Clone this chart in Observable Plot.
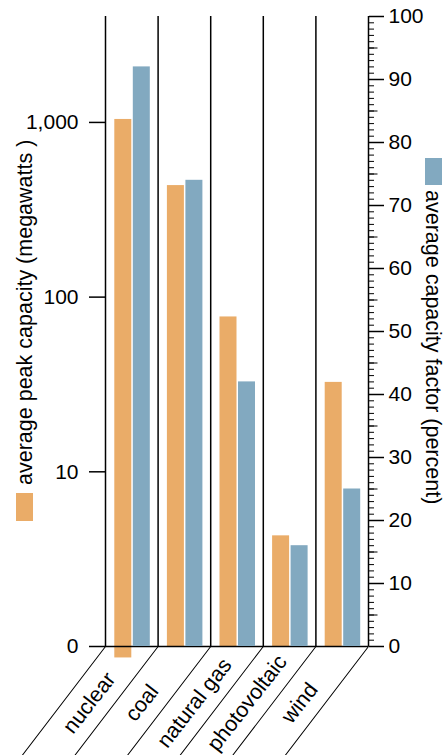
<!DOCTYPE html>
<html>
<head>
<meta charset="utf-8">
<script src="https://cdn.jsdelivr.net/npm/d3@7"></script>
<script src="https://cdn.jsdelivr.net/npm/@observablehq/plot@0.6"></script>
<style>
  html, body { margin: 0; padding: 0; background: #fff; overflow: hidden; }
  #chart { position: relative; width: 444px; height: 755px; overflow: hidden;
           font-family: "Liberation Sans", Arial, Helvetica, sans-serif; color: #000; }
  #chart svg { position: absolute; left: 0; top: 0; }
  .title { position: absolute; white-space: nowrap; font-size: 21.5px; line-height: 1; transform-origin: 0 0; }
  .swatch { position: absolute; }
</style>
</head>
<body>
<div id="chart"></div>
<script>
// ---- data ----
const categories = ["nuclear", "coal", "natural gas", "photovoltaic", "wind"];
const peakCapacity = [1040, 435, 77, 4.3, 32.5];     // average peak capacity (megawatts), log scale
const peakBase = [0.86, 1, 1, 1, 1];                 // bar base values (nuclear bar dips below baseline)
const capacityFactor = [92, 74, 42, 16, 25];         // average capacity factor (percent)
const peakTicks = [1, 10, 100, 1000];
const peakTickLabels = ["0", "10", "100", "1,000"];
const peakDomain = [1, 4040];
const factorDomain = [0, 100];
const factorMajorTicks = d3.range(0, 101, 10);
const factorMidTicks = d3.range(5, 100, 10);
const factorMinorTicks = d3.range(0, 101, 1);
const peakTitle = "average peak capacity (megawatts )";
const factorTitle = "average capacity factor (percent)";

const orange = "#EAAC68";
const blue = "#82A9C0";

const idx = categories.map((d, i) => i);
const bounds = d3.range(0, categories.length + 1);

const W = 444, H = 755;
const common = {
  width: W, height: H,
  marginLeft: 105, marginRight: 76, marginTop: 16, marginBottom: 109,
  x: { domain: [0, categories.length], axis: null },
};
const font = "'Liberation Sans', Arial, Helvetica, sans-serif";

// ---- left (log) plot ----
const p1 = Plot.plot({
  ...common,
  style: { fontFamily: font, fontSize: "21px", background: "transparent", overflow: "hidden" },
  y: { type: "log", domain: peakDomain },
  marks: [
    Plot.rectY(idx, {
      x1: i => i, x2: i => i + 1,
      y1: i => peakBase[i], y2: i => peakCapacity[i],
      insetLeft: 9.3, insetRight: 26.3, fill: orange
    }),
    Plot.ruleX(bounds.slice(0, -1), { x: d => d, stroke: "#000", strokeWidth: 1.5 }),
    Plot.ruleY([1], { stroke: "#000", strokeWidth: 1.5 }),
    Plot.vector(bounds, {
      x: d => d, y: () => 1, length: 220, rotate: 217.4, anchor: "start",
      stroke: "#000", strokeWidth: 1
    }),
    Plot.text(idx, {
      x: i => i + 0.5, y: () => 1, text: i => categories[i],
      rotate: -52, dx: -42.5, dy: 56.5, fontSize: 21.5, textAnchor: "middle", fill: "#000"
    }),
    Plot.axisY(peakTicks, {
      anchor: "left", tickSize: 16, tickPadding: 11, strokeWidth: 1.5,
      tickFormat: d => peakTickLabels[peakTicks.indexOf(d)], label: null, fontSize: 21
    })
  ]
});

// ---- right (linear) plot ----
const p2 = Plot.plot({
  ...common,
  style: { fontFamily: font, fontSize: "21px", background: "transparent", overflow: "hidden" },
  y: { domain: factorDomain },
  marks: [
    Plot.rectY(idx, {
      x1: i => i, x2: i => i + 1,
      y1: () => 0, y2: i => capacityFactor[i],
      insetLeft: 27.8, insetRight: 7.8, fill: blue
    }),
    Plot.ruleX([categories.length], { stroke: "#000", strokeWidth: 1.5 }),
    Plot.axisY(factorMinorTicks, { anchor: "right", tickSize: 5, tickFormat: () => "", label: null, strokeWidth: 1 }),
    Plot.axisY(factorMidTicks, { anchor: "right", tickSize: 8.5, tickFormat: () => "", label: null, strokeWidth: 1 }),
    Plot.axisY(factorMajorTicks, { anchor: "right", tickSize: 15, tickPadding: 5, label: null, strokeWidth: 1.5, fontSize: 21 })
  ]
});

const chart = document.getElementById("chart");
chart.appendChild(p1);
chart.appendChild(p2);

// ---- legend / axis titles ----
function addSwatch(left, top, w, h, color) {
  const s = document.createElement("div");
  s.className = "swatch";
  Object.assign(s.style, { left: left + "px", top: top + "px", width: w + "px", height: h + "px", background: color });
  chart.appendChild(s);
}
function addTitle(text, left, top, deg) {
  const t = document.createElement("div");
  t.className = "title";
  t.textContent = text;
  Object.assign(t.style, { left: left + "px", top: top + "px", transform: `rotate(${deg}deg)` });
  chart.appendChild(t);
}
addSwatch(16, 493, 17, 28, orange);
addTitle(peakTitle, 15, 485, -90);
addSwatch(425, 158, 17, 27, blue);
addTitle(factorTitle, 443, 190, 90);
</script>
</body>
</html>
